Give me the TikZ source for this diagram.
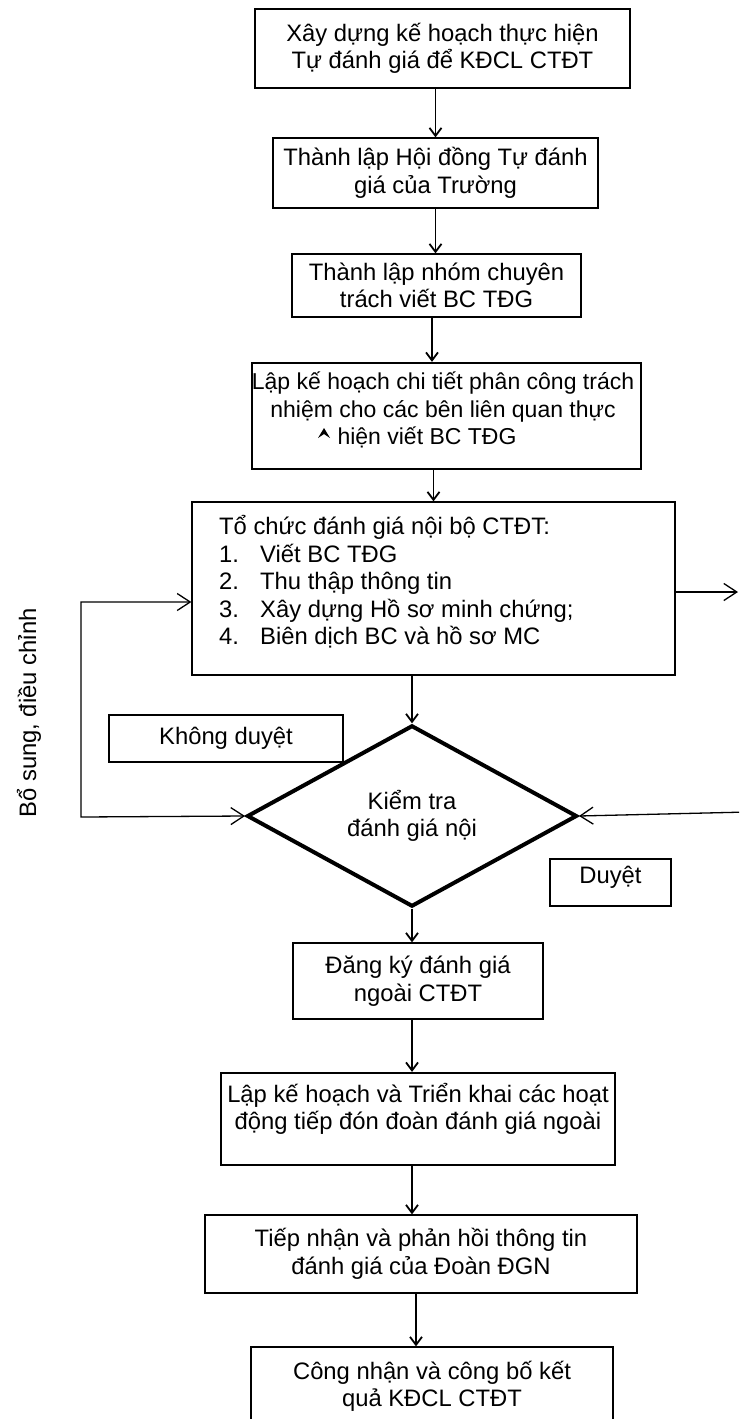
\documentclass[tikz,border=0pt]{standalone}
\usepackage{fontspec}
\setmainfont{Liberation Sans}
\usetikzlibrary{shapes.geometric,arrows.meta}
\newcommand{\thinline}{1.3pt}
\newcommand{\boldline}{2.2pt}
\newcommand{\loopx}{81}
\newcommand{\rightedge}{738}
\newcommand{\stepfont}{\fontsize{23.8}{27.5}\selectfont}
\newcommand{\numbox}[1]{\makebox[41pt][l]{#1}}

\begin{document}
\begin{tikzpicture}[x=1pt,y=-1pt]
\tikzstyle{box}=[draw,line width=\thinline,inner sep=0pt,align=center,font=\stepfont]
\tikzstyle{boldbox}=[box,line width=\boldline]
\tikzstyle{lbl}=[inner sep=0pt,align=center,font=\stepfont]
\tikzstyle{flow}=[line width=\thinline,-{Straight Barb[length=8pt,width=12pt,line width=1.8pt]}]
\tikzstyle{back}=[line width=\thinline,{Straight Barb[length=13pt,width=17pt]}-{Straight Barb[length=13pt,width=17pt]}]
\tikzstyle{side}=[line width=\thinline,-{Straight Barb[length=13pt,width=17pt]}]

\clip (0,0) rectangle (739,1419);

\node (S1) [box, minimum width=375pt, minimum height=79pt] at (442.5,48.5) {Xây dựng kế hoạch thực hiện\\Tự đánh giá để KĐCL CTĐT};
\node (S2) [box, minimum width=325pt, minimum height=70pt] at (435.5,173) {Thành lập Hội đồng Tự đánh\\giá của Trường};
\node (S3) [box, minimum width=289pt, minimum height=63pt] at (436.5,285.5) {Thành lập nhóm chuyên\\trách viết BC TĐG};
\node (S4) [boldbox, minimum width=389pt, minimum height=106pt] at (446.5,416) {};
\node (S4text) [lbl, font=\fontsize{23}{27.5}\selectfont] at (443,410) {Lập kế hoạch chi tiết phân công trách\\nhiệm cho các bên liên quan thực\\hiện viết BC TĐG\hspace*{32pt}};
\fill (318,438) -- (324,428) -- (330,438) -- (324,434) -- cycle;

\node (S5) [box, minimum width=483pt, minimum height=173pt] at (433.5,588.5) {};
\node (S5text) [lbl, anchor=west, align=left] at (219,582) {Tổ chức đánh giá nội bộ CTĐT:\\
  \numbox{1.}Viết BC TĐG\\
  \numbox{2.}Thu thập thông tin\\
  \numbox{3.}Xây dựng Hồ sơ minh chứng;\\
  \numbox{4.}Biên dịch BC và hồ sơ MC};

\node (D) [diamond, draw, line width=4pt, inner sep=0pt, minimum width=330pt, minimum height=152pt, align=center, font=\stepfont] at (412,816) {Kiểm tra\\đánh giá nội};
\node (NO) [box, minimum width=234pt, minimum height=47pt] at (226,738.5) {Không duyệt};
\node (YES) [box, minimum width=121pt, minimum height=47pt] at (610.5,882.5) {};
\node (YEStext) [lbl] at (610.5,877) {Duyệt};

\node (S6) [box, minimum width=250pt, minimum height=76pt] at (418,981) {Đăng ký đánh giá\\ngoài CTĐT};
\node (S7) [boldbox, minimum width=394pt, minimum height=92pt] at (418,1119) {};
\node (S7text) [lbl] at (418,1109) {Lập kế hoạch và Triển khai các hoạt\\động tiếp đón đoàn đánh giá ngoài};
\node (S8) [box, minimum width=432pt, minimum height=78pt] at (421,1254) {Tiếp nhận và phản hồi thông tin\\đánh giá của Đoàn ĐGN};
\node (S9) [box, minimum width=362pt, minimum height=100pt] at (432,1397) {};
\node (S9text) [lbl] at (432,1386.5) {Công nhận và công bố kết\\quả KĐCL CTĐT};

\node (side) [lbl, rotate=90] at (29,713) {Bổ sung, điều chỉnh};

% main flow
\draw[flow] (S1.south -| S2.north) -- (S2.north);
\draw[flow] (S2.south) -- (S2.south |- S3.north);
\draw[flow] (S3.south -| 432,0) -- (S4.north -| 432,0);
\draw[flow] (S4.south -| S5.north) -- (S5.north);
\draw[flow] (S5.south -| D.north) -- (D.north);
\draw[flow] (D.south) -- (D.south |- S6.north);
\draw[flow] (S6.south -| D.south) -- (S7.north -| D.south);
\draw[flow] (S7.south -| D.south) -- (S8.north -| D.south);
\draw[flow] (S8.south -| 416,0) -- (S9.north -| 416,0);

% loop back
\coordinate (Lb) at (\loopx,817);
\coordinate (Lt) at (\loopx,602);
\draw[back] (D.west) -- (Lb) -- (Lt) -- (Lt -| S5.west);

\coordinate (Rt) at (\rightedge,592);
\coordinate (Rb) at (\rightedge+10,812);
\draw[side] (S5.east |- Rt) -- (Rt);
\draw[side] (Rb) -- (D.east);

\end{tikzpicture}
\end{document}
